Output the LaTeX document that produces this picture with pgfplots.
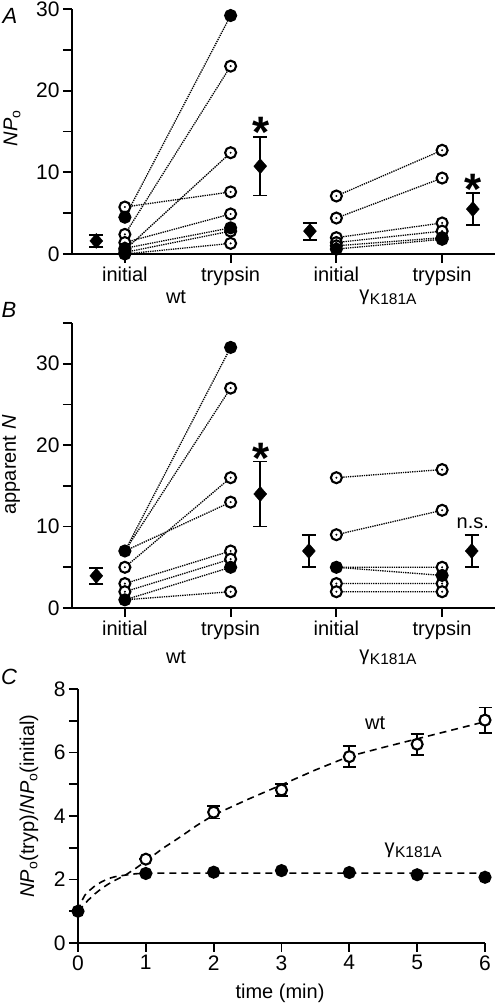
\documentclass[border=0pt]{standalone}
\usepackage{pgfplots}
\pgfplotsset{compat=1.18}
\usepackage{fontspec}
\setmainfont{Liberation Sans}
\newcommand\ff{\fontsize{20}{23}\selectfont}
\newcommand\fd{\fontsize{21}{24}\selectfont}
\newcommand\gk{γ\kern0.5pt\raisebox{-4pt}{\fontsize{15.5}{18}\selectfont K181A}}
\tikzset{mystar/.style={font=\fontsize{44}{44}\bfseries, anchor=base, yshift=-26pt}}
\begin{document}
\begin{tikzpicture}
\useasboundingbox (0,0) rectangle (495pt,1003pt);
\pgfplotsset{
  panel/.style={scale only axis, axis lines=left, axis line style={-, line width=2pt},
    tick style={line width=1.8pt, black}, tick align=outside,
    major tick length=9pt, minor tick length=9pt,
    yticklabel style={font=\fd}, xticklabel style={font=\ff},
    /pgf/number format/assume math mode=true,
    clip=false, anchor=south west},
  conn/.style={densely dotted, line width=1.3pt, unbounded coords=jump, forget plot},
  openm/.style={only marks, mark=*, mark size=5.5pt, mark options={fill=white, draw=black, line width=2.1pt, solid}},
  dotm/.style={only marks, mark=*, mark size=0.8pt, mark options={fill=black, draw=none}},
  fillm/.style={only marks, mark=*, mark size=5.5pt, mark options={fill=black, draw=black, line width=2.1pt, solid}},
  meanm/.style={only marks, mark=diamond*, mark size=7.5pt, mark options={fill=black, draw=black, xscale=1.15},
    error bars/.cd, y dir=both, y explicit, error bar style={line width=1.8pt, black},
    error mark options={rotate=90, mark size=7pt, line width=1.8pt, black}},
}
% ---------------- Panel A ----------------
\begin{axis}[panel, at={(72pt,749pt)}, width=423pt, height=245pt,
  xmin=0.5, xmax=4.5, ymin=0, ymax=30,
  xtick={1,2,3,4}, xticklabels={initial,trypsin,initial,trypsin},
  ytick={0,10,20,30}, minor ytick={5,15,25}]
\addplot[conn] coordinates {(1,4.5)(2,29.2)(1,nan)(1,2.4)(2,23)(1,nan)(1,0.5)(2,12.4)(1,nan)(1,5.75)(2,7.6)(1,nan)(1,1.4)(2,4.9)(1,nan)(1,0.7)(2,3.2)(1,nan)(1,0.2)(2,2.8)(1,nan)(1,0)(2,1.3)};
\addplot[conn] coordinates {(3,7.1)(4,12.7)(3,nan)(3,4.4)(4,9.3)(3,nan)(3,2.0)(4,3.8)(3,nan)(3,1.4)(4,2.8)(3,nan)(3,1.0)(4,2.0)(3,nan)(3,0.6)(4,1.8)};
\addplot[openm] coordinates {(1,2.4)(2,23)(1,0.5)(2,12.4)(1,5.75)(2,7.6)(1,1.4)(2,4.9)(1,0.2)(2,2.8)(2,1.3)
  (3,7.1)(4,12.7)(3,4.4)(4,9.3)(3,2.0)(4,3.8)(3,1.4)(4,2.8)(3,1.0)};
\addplot[dotm] coordinates {(1,2.4)(2,23)(1,0.5)(2,12.4)(1,5.75)(2,7.6)(1,1.4)(2,4.9)(1,0.2)(2,2.8)(2,1.3)
  (3,7.1)(4,12.7)(3,4.4)(4,9.3)(3,2.0)(4,3.8)(3,1.4)(4,2.8)(3,1.0)};
\addplot[fillm] coordinates {(1,4.5)(2,29.2)(1,0.7)(2,3.2)(1,0)(3,0.6)(4,1.8)(4,2.0)};
\addplot[meanm] coordinates {(0.73,1.6)+-(0,0.7) (2.28,10.75)+-(0,3.6) (2.75,2.8)+-(0,1.04) (4.29,5.5)+-(0,1.95)};
\node[mystar] at (axis cs:2.29,16.2) {*};
\node[mystar] at (axis cs:4.29,9.2) {*};
\end{axis}
% ---------------- Panel B ----------------
\begin{axis}[panel, at={(72pt,395pt)}, width=423pt, height=285pt,
  xmin=0.5, xmax=4.5, ymin=0, ymax=35,
  xtick={1,2,3,4}, xticklabels={initial,trypsin,initial,trypsin},
  ytick={0,10,20,30}, minor ytick={5,15,25,35}]
\addplot[conn] coordinates {(1,7)(2,32)(1,nan)(1,7)(2,27)(1,nan)(1,5)(2,16)(1,nan)(1,7)(2,13)(1,nan)(1,3)(2,7)(1,nan)(1,2)(2,6)(1,nan)(1,1)(2,5)(1,nan)(1,1)(2,2)};
\addplot[conn] coordinates {(3,16)(4,17)(3,nan)(3,9)(4,12)(3,nan)(3,5)(4,5)(3,nan)(3,5)(4,4)(3,nan)(3,3)(4,3)(3,nan)(3,2)(4,2)};
\addplot[openm] coordinates {(2,27)(1,5)(2,16)(2,13)(1,3)(2,7)(1,2)(2,6)(2,2)
  (3,16)(4,17)(3,9)(4,12)(4,5)(3,3)(4,3)(3,2)(4,2)};
\addplot[dotm] coordinates {(2,27)(1,5)(2,16)(2,13)(1,3)(2,7)(1,2)(2,6)(2,2)
  (3,16)(4,17)(3,9)(4,12)(4,5)(3,3)(4,3)(3,2)(4,2)};
\addplot[fillm] coordinates {(1,7)(2,32)(1,1)(2,5)(3,5)(4,4)};
\addplot[meanm] coordinates {(0.73,3.95)+-(0,1.0) (2.28,14)+-(0,4) (2.74,7)+-(0,2) (4.28,7)+-(0,2)};
\node[mystar] at (axis cs:2.29,19.7) {*};
\node[font=\ff] at (axis cs:4.29,10.4) {n.s.};
\end{axis}
% ---------------- Panel C ----------------
\begin{axis}[panel, at={(78pt,60pt)}, width=407pt, height=254pt,
  xmin=0, xmax=6, ymin=0, ymax=8, xticklabel style={font=\fd},
  xtick={0,1,2,3,4,5,6}, ytick={0,2,4,6,8}, minor ytick={1,3,5,7}]
\addplot[black, dash pattern=on 7pt off 5pt, line width=1.6pt, forget plot] coordinates {
(0,1)(0.05,1.12)(0.15,1.35)(0.25,1.55)(0.35,1.72)(0.45,1.86)(0.55,1.98)(0.7,2.14)(0.85,2.35)(1,2.58)(1.25,2.98)(1.5,3.33)(1.75,3.7)(2,4.03)(2.5,4.52)(3,4.98)(3.5,5.45)(4,5.88)(4.5,6.16)(5,6.43)(5.5,6.7)(6,6.97)};
\addplot[black, dash pattern=on 7pt off 5pt, line width=1.6pt, forget plot] coordinates {
(0,1)(0.05,1.3)(0.1,1.5)(0.15,1.62)(0.25,1.8)(0.35,1.93)(0.45,2.03)(0.55,2.09)(0.7,2.14)(0.85,2.18)(1,2.2)(2,2.2)(3,2.2)(4,2.2)(5,2.2)(6,2.2)};
\addplot[openm, error bars/.cd, y dir=both, y explicit, error bar style={line width=1.8pt, black},
    error mark options={rotate=90, mark size=6.5pt, line width=1.8pt, black}] coordinates {
(1,2.64)+-(0,0) (2,4.12)+-(0,0.2) (3,4.82)+-(0,0.2) (4,5.87)+-(0,0.33) (5,6.26)+-(0,0.33) (6,7.02)+-(0,0.4)};
\addplot[fillm] coordinates {(0,1)(1,2.19)(2,2.23)(3,2.28)(4,2.22)(5,2.15)(6,2.07)};
\node[font=\ff] at (axis cs:4.38,6.93) {wt};
\node[font=\ff] at (axis cs:4.94,2.93) {\gk};
\end{axis}
% ---------------- Text ----------------
\node[font=\fontsize{22}{24}\selectfont\itshape] at (10pt,987pt) {A};
\node[font=\fontsize{22}{24}\selectfont\itshape] at (9pt,693pt) {B};
\node[font=\fontsize{22}{24}\selectfont\itshape] at (9pt,326pt) {C};
\node[font=\ff, rotate=90] at (12pt,875pt) {\textit{NP}\textsubscript{o}};
\node[font=\ff, rotate=90] at (11pt,538pt) {apparent \textit{N}};
\node[font=\ff, rotate=90] at (29pt,197pt) {\textit{NP}\textsubscript{o}(tryp)/\textit{NP}\textsubscript{o}(initial)};
\node[font=\ff] at (176pt,706pt) {wt};
\node[font=\ff] at (388pt,706pt) {\gk};
\node[font=\ff] at (176pt,346pt) {wt};
\node[font=\ff] at (388pt,346pt) {\gk};
\node[font=\ff] at (280pt,10pt) {time (min)};
\end{tikzpicture}
\end{document}
